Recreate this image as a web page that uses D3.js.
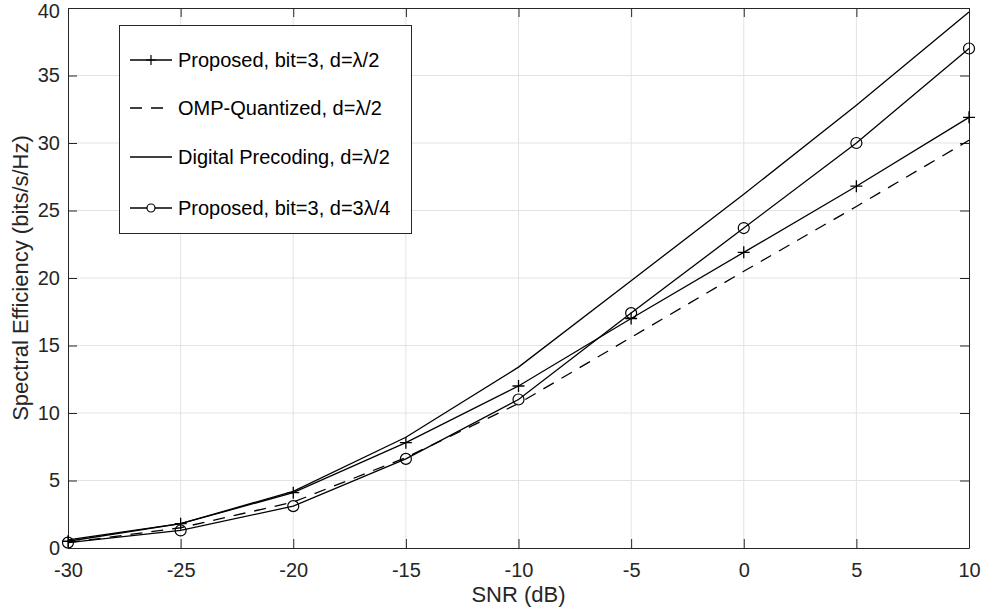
<!DOCTYPE html>
<html>
<head>
<meta charset="utf-8">
<script src="https://cdn.jsdelivr.net/npm/d3@7.9.0/dist/d3.min.js"></script>
<style>
  html, body { margin: 0; padding: 0; background: #fff; }
  svg { display: block; font-family: "Liberation Sans", Arial, sans-serif; }
</style>
</head>
<body>
<svg id="chart" width="982" height="614"></svg>
<script>
// SNR values (dB)
const snr = [-30, -25, -20, -15, -10, -5, 0, 5, 10];

const proposedHalf   = [0.5, 1.8, 4.1, 7.8, 12.0, 17.0, 21.9, 26.8, 31.9];
const ompQuantized   = [0.4, 1.5, 3.4, 6.7, 10.7, 15.6, 20.5, 25.3, 30.2];
const digitalPrecode = [0.6, 1.8, 4.2, 8.2, 13.4, 19.8, 26.2, 32.8, 39.7];
const proposedThreeQ = [0.4, 1.3, 3.1, 6.6, 11.0, 17.4, 23.7, 30.0, 37.0];

const xTicks = [-30, -25, -20, -15, -10, -5, 0, 5, 10];
const yTicks = [0, 5, 10, 15, 20, 25, 30, 35, 40];

const seriesNames = [
  'Proposed, bit=3, d=\u03bb/2',
  'OMP-Quantized, d=\u03bb/2',
  'Digital Precoding, d=\u03bb/2',
  'Proposed, bit=3, d=3\u03bb/4'
];

const series = [
  { name: seriesNames[0], values: proposedHalf,   dash: null,   marker: 'plus' },
  { name: seriesNames[1], values: ompQuantized,   dash: '12,9', marker: null },
  { name: seriesNames[2], values: digitalPrecode, dash: null,   marker: null },
  { name: seriesNames[3], values: proposedThreeQ, dash: null,   marker: 'circle' }
];

const L = 68, R = 969, T = 8, B = 548;
const svg = d3.select('#chart');

const x = d3.scaleLinear().domain([-30, 10]).range([L, R]);
const y = d3.scaleLinear().domain([0, 40]).range([B, T]);

// grid
svg.append('g').selectAll('line').data(xTicks.slice(1, -1)).enter().append('line')
  .attr('x1', d => x(d)).attr('x2', d => x(d)).attr('y1', T).attr('y2', B)
  .attr('stroke', '#e3e3e3').attr('stroke-width', 1);
svg.append('g').selectAll('line').data(yTicks.slice(1, -1)).enter().append('line')
  .attr('y1', d => y(d)).attr('y2', d => y(d)).attr('x1', L).attr('x2', R)
  .attr('stroke', '#e3e3e3').attr('stroke-width', 1);

// axes (inner ticks, MATLAB style)
const tk = 9;
const fmt = d => String(d);
const ax = svg.append('g').attr('transform', `translate(0,${B})`)
  .call(d3.axisBottom(x).tickValues(xTicks).tickSizeInner(-tk).tickSizeOuter(0).tickPadding(15).tickFormat(fmt));
const axTop = svg.append('g').attr('transform', `translate(0,${T})`)
  .call(d3.axisTop(x).tickValues(xTicks).tickSizeInner(-tk).tickSizeOuter(0).tickFormat(''));
const ay = svg.append('g').attr('transform', `translate(${L},0)`)
  .call(d3.axisLeft(y).tickValues(yTicks).tickSizeInner(-tk).tickSizeOuter(0).tickPadding(8).tickFormat(fmt));
const ayR = svg.append('g').attr('transform', `translate(${R},0)`)
  .call(d3.axisRight(y).tickValues(yTicks).tickSizeInner(-tk).tickSizeOuter(0).tickFormat(''));

[ax, axTop, ay, ayR].forEach(g => {
  g.select('.domain').attr('stroke', '#262626').attr('stroke-width', 1);
  g.selectAll('.tick line').attr('stroke', '#262626');
  g.selectAll('.tick text').attr('font-size', 20).attr('fill', '#262626')
    .attr('font-family', '"Liberation Sans", Arial, sans-serif');
});
// keep the top label inside the page
ay.selectAll('.tick text').filter(d => d === 40).attr('y', 3);

// lines
const line = d3.line().x((d, i) => x(snr[i])).y(d => y(d));
series.forEach(s => {
  svg.append('path').datum(s.values)
    .attr('d', line).attr('fill', 'none').attr('stroke', '#000')
    .attr('stroke-width', 1.3)
    .attr('stroke-dasharray', s.dash);
  if (s.marker === 'plus') {
    svg.append('g').selectAll('path').data(s.values).enter().append('path')
      .attr('d', (d, i) => `M${x(snr[i]) - 6},${y(d)}h12M${x(snr[i])},${y(d) - 6}v12`)
      .attr('stroke', '#000').attr('stroke-width', 1.3);
  } else if (s.marker === 'circle') {
    svg.append('g').selectAll('circle').data(s.values).enter().append('circle')
      .attr('cx', (d, i) => x(snr[i])).attr('cy', d => y(d)).attr('r', 5.5)
      .attr('fill', 'none').attr('stroke', '#000').attr('stroke-width', 1.2);
  }
});

// axis labels
svg.append('text').attr('x', (L + R) / 2).attr('y', 602).attr('text-anchor', 'middle')
  .attr('font-size', 22).attr('fill', '#262626').text('SNR (dB)');
svg.append('text').attr('transform', `translate(28,${(T + B) / 2}) rotate(-90)`)
  .attr('text-anchor', 'middle').attr('font-size', 22).attr('fill', '#262626')
  .text('Spectral Efficiency (bits/s/Hz)');

// legend
const lg = svg.append('g');
lg.append('rect').attr('x', 119.5).attr('y', 25.5).attr('width', 292).attr('height', 208)
  .attr('fill', '#fff').attr('stroke', '#262626').attr('stroke-width', 1);
const rowY = [60, 108, 157, 208];
series.forEach((s, i) => {
  const yy = rowY[i];
  lg.append('line').attr('x1', 130).attr('x2', 172).attr('y1', yy).attr('y2', yy)
    .attr('stroke', '#000').attr('stroke-width', 1.3).attr('stroke-dasharray', s.dash);
  if (s.marker === 'plus') {
    lg.append('path').attr('d', `M146,${yy}h10M151,${yy - 5}v10`).attr('stroke', '#000').attr('stroke-width', 1.2);
  } else if (s.marker === 'circle') {
    lg.append('circle').attr('cx', 151).attr('cy', yy).attr('r', 4)
      .attr('fill', '#fff').attr('stroke', '#000').attr('stroke-width', 1.2);
  }
  lg.append('text').attr('x', 178).attr('y', yy).attr('dy', '0.35em')
    .attr('font-size', 20).attr('fill', '#000').text(s.name);
});
</script>
</body>
</html>
